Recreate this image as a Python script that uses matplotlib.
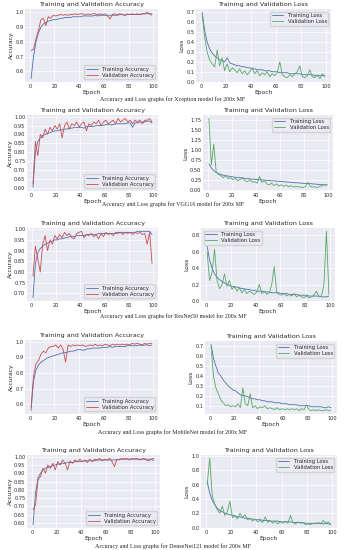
import numpy as np
import matplotlib
matplotlib.use("Agg")
import matplotlib.pyplot as plt
import seaborn as sns

sns.set_style("darkgrid")
plt.rcParams['font.family'] = ['DejaVu Sans']

# epochs sampled every 2nd epoch
epochs = list(range(1, 101, 2))

models = ["Xception", "VGG16", "ResNet50", "MobileNet", "DenseNet121"]

# Xception
xc_acc_tr = [0.55, 0.70, 0.80, 0.86, 0.90, 0.92, 0.93, 0.94, 0.945, 0.95, 0.95, 0.955, 0.96, 0.96, 0.965, 0.965, 0.965, 0.97, 0.97, 0.97,
             0.97, 0.975, 0.975, 0.975, 0.975, 0.975, 0.98, 0.975, 0.98, 0.98, 0.98, 0.98, 0.98, 0.98, 0.98, 0.98, 0.985, 0.985, 0.98, 0.985,
             0.985, 0.985, 0.985, 0.985, 0.985, 0.99, 0.99, 0.99, 0.99, 0.99]
xc_acc_va = [0.74, 0.75, 0.82, 0.88, 0.95, 0.96, 0.91, 0.97, 0.96, 0.98, 0.975, 0.98, 0.985, 0.98, 0.985, 0.98, 0.985, 0.985, 0.99, 0.985,
             0.99, 0.99, 0.98, 0.99, 0.985, 0.99, 0.99, 0.985, 0.99, 0.985, 0.99, 0.975, 0.955, 0.985, 0.99, 0.985, 0.99, 0.985, 0.98, 0.99,
             0.985, 0.99, 0.985, 0.99, 0.985, 0.99, 0.99, 1.0, 0.99, 0.98]
xc_loss_tr = [0.70, 0.52, 0.40, 0.33, 0.29, 0.26, 0.24, 0.22, 0.21, 0.20, 0.24, 0.19, 0.18, 0.17, 0.16, 0.16, 0.15, 0.15, 0.14, 0.14,
              0.13, 0.13, 0.12, 0.12, 0.12, 0.11, 0.11, 0.11, 0.10, 0.10, 0.10, 0.09, 0.09, 0.09, 0.09, 0.08, 0.08, 0.08, 0.08, 0.08,
              0.07, 0.07, 0.07, 0.07, 0.07, 0.06, 0.06, 0.06, 0.06, 0.06]
xc_loss_va = [0.68, 0.45, 0.30, 0.22, 0.18, 0.15, 0.32, 0.16, 0.24, 0.11, 0.18, 0.10, 0.14, 0.12, 0.09, 0.13, 0.08, 0.11, 0.07, 0.10,
              0.14, 0.08, 0.11, 0.06, 0.09, 0.07, 0.10, 0.05, 0.08, 0.06, 0.09, 0.20, 0.07, 0.05, 0.04, 0.07, 0.05, 0.08, 0.10, 0.16,
              0.05, 0.04, 0.06, 0.12, 0.05, 0.04, 0.07, 0.03, 0.08, 0.05]

# VGG16
vg_acc_tr = [0.60, 0.80, 0.86, 0.88, 0.895, 0.90, 0.905, 0.91, 0.915, 0.92, 0.92, 0.925, 0.925, 0.93, 0.93, 0.935, 0.935, 0.94, 0.94, 0.94,
             0.94, 0.935, 0.945, 0.945, 0.945, 0.945, 0.95, 0.95, 0.95, 0.95, 0.955, 0.955, 0.955, 0.955, 0.96, 0.96, 0.96, 0.96, 0.96, 0.965,
             0.965, 0.94, 0.965, 0.965, 0.97, 0.97, 0.97, 0.975, 0.975, 0.965]
vg_acc_va = [0.62, 0.86, 0.78, 0.90, 0.88, 0.93, 0.90, 0.94, 0.92, 0.95, 0.93, 0.96, 0.88, 0.95, 0.97, 0.93, 0.96, 0.95, 0.97, 0.94,
             0.96, 0.97, 0.92, 0.96, 0.95, 0.97, 0.96, 0.98, 0.95, 0.97, 0.98, 0.96, 0.97, 0.98, 0.96, 0.99, 0.97, 0.98, 0.99, 0.97,
             0.98, 0.96, 0.98, 0.97, 0.98, 0.96, 0.98, 0.98, 0.99, 0.97]
vg_loss_tr = [0.65, 0.55, 0.48, 0.43, 0.40, 0.38, 0.36, 0.35, 0.34, 0.33, 0.32, 0.31, 0.30, 0.30, 0.29, 0.28, 0.28, 0.27, 0.26, 0.26,
              0.25, 0.25, 0.24, 0.24, 0.23, 0.23, 0.22, 0.22, 0.21, 0.21, 0.20, 0.20, 0.19, 0.19, 0.18, 0.18, 0.17, 0.17, 0.16, 0.16,
              0.15, 0.15, 0.15, 0.14, 0.14, 0.13, 0.13, 0.12, 0.12, 0.12]
vg_loss_va = [1.80, 0.62, 1.15, 0.45, 0.38, 0.35, 0.30, 0.35, 0.28, 0.30, 0.25, 0.28, 0.22, 0.26, 0.30, 0.22, 0.20, 0.25, 0.18, 0.20,
              0.16, 0.33, 0.18, 0.22, 0.14, 0.12, 0.16, 0.10, 0.14, 0.09, 0.12, 0.08, 0.11, 0.07, 0.10, 0.06, 0.08, 0.07, 0.06, 0.05,
              0.07, 0.18, 0.08, 0.06, 0.07, 0.05, 0.08, 0.10, 0.12, 0.11]

# ResNet50
rn_acc_tr = [0.68, 0.84, 0.89, 0.91, 0.92, 0.93, 0.935, 0.94, 0.945, 0.95, 0.95, 0.955, 0.955, 0.96, 0.96, 0.965, 0.965, 0.965, 0.97, 0.97,
             0.97, 0.97, 0.975, 0.975, 0.975, 0.975, 0.975, 0.98, 0.98, 0.98, 0.98, 0.98, 0.98, 0.98, 0.98, 0.985, 0.985, 0.985, 0.985, 0.985,
             0.985, 0.985, 0.985, 0.99, 0.99, 0.99, 0.99, 0.99, 0.99, 0.975]
rn_acc_va = [0.78, 0.92, 0.86, 0.80, 0.93, 0.97, 0.90, 0.95, 0.93, 0.97, 0.955, 0.975, 0.96, 0.985, 0.97, 0.98, 0.96, 0.955, 0.98, 0.985,
             0.99, 0.96, 0.975, 0.97, 0.98, 0.965, 0.975, 0.955, 0.98, 0.965, 0.985, 0.975, 0.98, 0.97, 0.985, 0.98, 0.985, 0.975, 0.985, 0.98,
             0.985, 0.975, 0.985, 0.98, 0.985, 0.975, 0.98, 0.93, 0.985, 0.84]
rn_loss_tr = [0.67, 0.50, 0.40, 0.33, 0.29, 0.26, 0.24, 0.22, 0.20, 0.19, 0.18, 0.17, 0.17, 0.16, 0.15, 0.15, 0.14, 0.14, 0.13, 0.13,
              0.12, 0.12, 0.12, 0.11, 0.11, 0.11, 0.10, 0.10, 0.10, 0.10, 0.09, 0.09, 0.09, 0.08, 0.08, 0.08, 0.08, 0.07, 0.07, 0.07,
              0.07, 0.06, 0.06, 0.06, 0.06, 0.06, 0.05, 0.05, 0.05, 0.06]
rn_loss_va = [0.60, 0.25, 0.35, 0.63, 0.25, 0.15, 0.20, 0.33, 0.18, 0.25, 0.14, 0.18, 0.12, 0.16, 0.10, 0.14, 0.09, 0.12, 0.10, 0.08,
              0.11, 0.20, 0.09, 0.12, 0.08, 0.10, 0.20, 0.42, 0.10, 0.08, 0.07, 0.09, 0.06, 0.08, 0.06, 0.09, 0.05, 0.07, 0.05, 0.04,
              0.06, 0.04, 0.05, 0.07, 0.12, 0.05, 0.06, 0.20, 0.85, 0.08]

# MobileNet
mb_acc_tr = [0.56, 0.75, 0.82, 0.85, 0.87, 0.88, 0.89, 0.90, 0.905, 0.91, 0.915, 0.92, 0.925, 0.93, 0.93, 0.935, 0.94, 0.94, 0.945, 0.95,
             0.95, 0.945, 0.95, 0.955, 0.955, 0.96, 0.96, 0.96, 0.96, 0.965, 0.965, 0.965, 0.97, 0.965, 0.97, 0.97, 0.97, 0.97, 0.97, 0.975,
             0.975, 0.975, 0.975, 0.975, 0.98, 0.975, 0.98, 0.98, 0.975, 0.98]
mb_acc_va = [0.58, 0.78, 0.86, 0.88, 0.92, 0.94, 0.93, 0.96, 0.97, 0.97, 0.98, 0.96, 0.98, 0.95, 0.87, 0.98, 0.97, 0.98, 0.975, 0.98,
             0.975, 0.98, 0.97, 0.975, 0.98, 0.975, 0.985, 0.975, 0.98, 0.975, 0.985, 0.98, 0.975, 0.985, 0.98, 0.985, 0.98, 0.985, 0.98, 0.985,
             0.98, 0.99, 0.985, 0.99, 0.985, 0.98, 0.99, 0.985, 0.99, 0.99]
mb_loss_tr = [0.72, 0.58, 0.50, 0.43, 0.40, 0.36, 0.33, 0.30, 0.28, 0.26, 0.25, 0.23, 0.21, 0.20, 0.20, 0.19, 0.18, 0.17, 0.17, 0.16,
              0.16, 0.15, 0.15, 0.14, 0.14, 0.14, 0.13, 0.13, 0.13, 0.12, 0.12, 0.12, 0.11, 0.11, 0.11, 0.11, 0.10, 0.10, 0.10, 0.10,
              0.10, 0.09, 0.09, 0.09, 0.09, 0.09, 0.08, 0.08, 0.09, 0.08]
mb_loss_va = [0.70, 0.40, 0.28, 0.22, 0.16, 0.13, 0.10, 0.11, 0.09, 0.10, 0.09, 0.12, 0.08, 0.28, 0.12, 0.10, 0.22, 0.08, 0.10, 0.07,
              0.09, 0.08, 0.10, 0.07, 0.08, 0.07, 0.06, 0.08, 0.06, 0.07, 0.06, 0.07, 0.06, 0.07, 0.06, 0.07, 0.05, 0.07, 0.06, 0.11,
              0.06, 0.05, 0.06, 0.05, 0.06, 0.05, 0.05, 0.06, 0.05, 0.05]

# DenseNet121
dn_acc_tr = [0.59, 0.78, 0.87, 0.90, 0.92, 0.93, 0.935, 0.94, 0.945, 0.95, 0.955, 0.955, 0.96, 0.96, 0.965, 0.965, 0.965, 0.97, 0.97, 0.97,
             0.97, 0.975, 0.975, 0.975, 0.975, 0.975, 0.98, 0.98, 0.98, 0.98, 0.98, 0.98, 0.98, 0.98, 0.98, 0.985, 0.985, 0.985, 0.985, 0.985,
             0.985, 0.985, 0.985, 0.985, 0.985, 0.985, 0.985, 0.985, 0.985, 0.99]
dn_acc_va = [0.68, 0.71, 0.86, 0.88, 0.93, 0.90, 0.95, 0.93, 0.96, 0.92, 0.97, 0.95, 0.98, 0.96, 0.92, 0.975, 0.96, 0.98, 0.97, 0.985,
             0.97, 0.98, 0.965, 0.985, 0.97, 0.985, 0.98, 0.99, 0.975, 0.985, 0.98, 0.99, 0.97, 0.94, 0.985, 0.98, 0.99, 0.985, 0.99, 0.98,
             0.99, 0.985, 0.99, 0.98, 0.985, 0.99, 0.98, 0.975, 0.985, 0.975]
dn_loss_tr = [0.65, 0.48, 0.38, 0.32, 0.27, 0.24, 0.22, 0.20, 0.19, 0.18, 0.17, 0.16, 0.15, 0.15, 0.14, 0.13, 0.13, 0.12, 0.12, 0.11,
              0.11, 0.11, 0.10, 0.10, 0.10, 0.09, 0.09, 0.09, 0.09, 0.08, 0.08, 0.08, 0.08, 0.08, 0.07, 0.07, 0.07, 0.07, 0.07, 0.06,
              0.06, 0.06, 0.06, 0.06, 0.06, 0.06, 0.05, 0.06, 0.05, 0.05]
dn_loss_va = [0.60, 0.97, 0.45, 0.33, 0.25, 0.20, 0.30, 0.17, 0.22, 0.37, 0.14, 0.17, 0.12, 0.20, 0.14, 0.18, 0.11, 0.13, 0.09, 0.12,
              0.08, 0.10, 0.07, 0.15, 0.07, 0.10, 0.06, 0.09, 0.05, 0.08, 0.06, 0.09, 0.06, 0.17, 0.07, 0.05, 0.08, 0.06, 0.07, 0.04,
              0.05, 0.04, 0.06, 0.05, 0.07, 0.05, 0.10, 0.06, 0.08, 0.04]

acc_train = [xc_acc_tr, vg_acc_tr, rn_acc_tr, mb_acc_tr, dn_acc_tr]
acc_val = [xc_acc_va, vg_acc_va, rn_acc_va, mb_acc_va, dn_acc_va]
loss_train = [xc_loss_tr, vg_loss_tr, rn_loss_tr, mb_loss_tr, dn_loss_tr]
loss_val = [xc_loss_va, vg_loss_va, rn_loss_va, mb_loss_va, dn_loss_va]

acc_ticks = [[0.6, 0.7, 0.8, 0.9, 1.0],
             [0.60, 0.65, 0.70, 0.75, 0.80, 0.85, 0.90, 0.95, 1.00],
             [0.70, 0.75, 0.80, 0.85, 0.90, 0.95, 1.00],
             [0.6, 0.7, 0.8, 0.9, 1.0],
             [0.60, 0.65, 0.70, 0.75, 0.80, 0.85, 0.90, 0.95, 1.00]]
loss_ticks = [[0.0, 0.1, 0.2, 0.3, 0.4, 0.5, 0.6, 0.7],
              [0.00, 0.25, 0.50, 0.75, 1.00, 1.25, 1.50, 1.75],
              [0.0, 0.2, 0.4, 0.6, 0.8],
              [0.1, 0.2, 0.3, 0.4, 0.5, 0.6, 0.7],
              [0.0, 0.2, 0.4, 0.6, 0.8, 1.0]]
loss_legend_loc = ["upper right", "upper right", "upper left", "upper right", "upper right"]

# pixel boxes (left, top, right, bottom) and caption y
W, H = 346, 550
left_boxes = [(25, 9, 158, 82), (27, 115, 158, 191), (27, 228, 158, 301), (25, 340, 158, 414), (27, 455, 160, 528)]
right_boxes = [(196, 9, 331, 82), (203, 115, 333, 191), (201, 228, 335, 301), (205, 341, 337, 414), (201, 455, 337, 528)]
caption_y = [99, 204, 316, 432, 546]

blue = "#4C72B0"
red = "#C44E52"
green = "#55A868"


def rect(b):
    l, t, r, bt = b
    return [l / W, 1 - bt / H, (r - l) / W, (bt - t) / H]


def style(ax, yt):
    ax.set_xticks([0, 20, 40, 60, 80, 100])
    ax.set_yticks(yt)
    ax.tick_params(labelsize=3.6, pad=1.2, length=0)
    ax.set_xlabel("Epoch", fontsize=4.3, labelpad=0.8)
    for sp in ax.spines.values():
        sp.set_visible(False)
    ax.grid(True, color="white", linewidth=0.5)


fig = plt.figure(figsize=(W / 100, H / 100), dpi=100)

for i in range(5):
    ax = fig.add_axes(rect(left_boxes[i]))
    ax.plot(epochs, acc_train[i], color=blue, lw=0.6, label="Training Accuracy")
    ax.plot(epochs, acc_val[i], color=red, lw=0.6, label="Validation Accuracy")
    style(ax, acc_ticks[i])
    ax.set_title("Training and Validation Accuracy", fontsize=4.6, pad=2)
    ax.set_ylabel("Accuracy", fontsize=4.3, labelpad=1)
    ax.legend(loc="lower right", fontsize=3.8, handlelength=2.2, borderpad=0.3, labelspacing=0.2)

    ax2 = fig.add_axes(rect(right_boxes[i]))
    ax2.plot(epochs, loss_train[i], color=blue, lw=0.6, label="Training Loss")
    ax2.plot(epochs, loss_val[i], color=green, lw=0.6, label="Validation Loss")
    style(ax2, loss_ticks[i])
    ax2.set_title("Training and Validation Loss", fontsize=4.6, pad=2)
    ax2.set_ylabel("Loss", fontsize=4.3, labelpad=1)
    ax2.legend(loc=loss_legend_loc[i], fontsize=3.8, handlelength=2.2, borderpad=0.3, labelspacing=0.2)

    fig.text(0.5, 1 - caption_y[i] / H,
             "Accuracy and Loss graphs for %s model for 200x MF" % models[i],
             ha="center", va="center", fontsize=4.3, family="Liberation Serif")

fig.savefig("out.png", dpi=100)
